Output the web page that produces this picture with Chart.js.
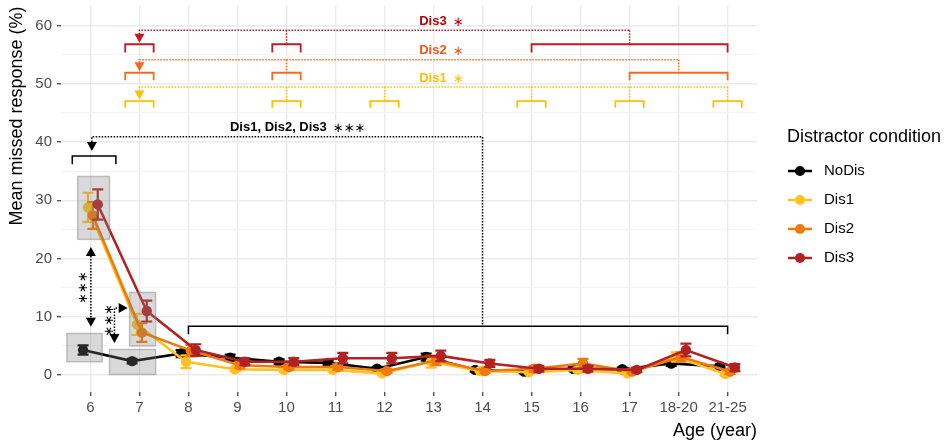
<!DOCTYPE html>
<html>
<head>
<meta charset="utf-8">
<script src="https://cdn.jsdelivr.net/npm/chart.js@4.4.0/dist/chart.umd.min.js"></script>
<style>
  html, body { margin: 0; padding: 0; background: #fff; }
</style>
</head>
<body>
<canvas id="chart" width="949" height="443"></canvas>
<script>
// age groups on the x axis
const ageGroups = ['6', '7', '8', '9', '10', '11', '12', '13', '14', '15', '16', '17', '18-20', '21-25'];

// mean missed response (%) and standard error per condition
const noDisMean = [4.3, 2.4, 3.7, 3.0, 2.3, 2.1, 1.1, 3.1, 0.9, 0.6, 1.1, 1.0, 2.0, 1.5];
const noDisSe   = [0.8, 0.4, 0.6, 0.5, 0.4, 0.4, 0.3, 0.6, 0.3, 0.3, 0.3, 0.3, 0.4, 0.4];
const dis1Mean  = [28.8, 8.7, 2.3, 1.0, 0.9, 0.9, 0.3, 2.3, 0.7, 0.5, 0.9, 0.3, 3.1, 0.2];
const dis1Se    = [2.5, 1.8, 1.1, 0.3, 0.3, 0.3, 0.2, 1.0, 0.2, 0.2, 0.4, 0.2, 0.8, 0.3];
const dis2Mean  = [27.4, 7.3, 4.2, 1.7, 1.4, 1.4, 0.7, 2.5, 0.7, 1.1, 2.0, 0.6, 3.1, 0.6];
const dis2Se    = [2.3, 1.6, 1.0, 0.5, 0.4, 0.5, 0.3, 0.8, 0.3, 0.5, 0.8, 0.3, 0.8, 0.4];
const dis3Mean  = [29.3, 11.0, 4.3, 2.3, 2.3, 2.9, 2.9, 3.3, 2.0, 1.1, 1.1, 0.9, 4.3, 1.3];
const dis3Se    = [2.6, 1.8, 1.0, 0.6, 0.6, 0.9, 0.9, 0.9, 0.6, 0.5, 0.5, 0.4, 1.1, 0.6];

const yTickValues = [0, 5, 10, 15, 20, 25, 30, 35, 40, 45, 50, 55, 60];

const FONT = "'Liberation Sans', Arial, 'DejaVu Sans', sans-serif";
const CAP = 5.5;

const series = [
  { name: 'NoDis', mean: noDisMean, se: noDisSe, color: '#000000', dodge: -0.15 },
  { name: 'Dis1', mean: dis1Mean, se: dis1Se, color: '#FFC125', dodge: -0.05 },
  { name: 'Dis2', mean: dis2Mean, se: dis2Se, color: '#EE7A0C', dodge: 0.05 },
  { name: 'Dis3', mean: dis3Mean, se: dis3Se, color: '#B22222', dodge: 0.15 }
];

// significance markers above the curves (x = age group index, y = % units)
const sigGroups = [
  { color: '#C8161D', textColor: '#C00000', label: 'Dis3', lineY: 59.2, top: 56.8, leg: 55.4, labelY: 60.8,
    singles: [1, 4], span: [9, 13], drop: 11 },
  { color: '#F56A1C', textColor: '#F2541B', label: 'Dis2', lineY: 54.15, top: 51.9, leg: 50.6, labelY: 55.7,
    singles: [1, 4], span: [11, 13], drop: 12 },
  { color: '#FFC000', textColor: '#FFC000', label: 'Dis1', lineY: 49.45, top: 47.05, leg: 45.9, labelY: 51.0,
    singles: [1, 4, 6, 9, 11, 13], span: null, drop: null }
];

const errorBars = {
  id: 'errorBars',
  afterDatasetDraw(chart, args) {
    const ds = chart.data.datasets[args.index];
    const ys = chart.scales.y;
    const ctx = chart.ctx;
    ctx.save();
    ctx.strokeStyle = ds.borderColor;
    ctx.lineWidth = 2.2;
    args.meta.data.forEach((pt, i) => {
      const v = ds.data[i].y, e = ds.se[i];
      const t = ys.getPixelForValue(v + e), b = ys.getPixelForValue(v - e);
      ctx.beginPath();
      ctx.moveTo(pt.x, t); ctx.lineTo(pt.x, b);
      ctx.moveTo(pt.x - CAP, t); ctx.lineTo(pt.x + CAP, t);
      ctx.moveTo(pt.x - CAP, b); ctx.lineTo(pt.x + CAP, b);
      ctx.stroke();
    });
    ctx.restore();
  }
};

const annotations = {
  id: 'annotations',
  afterDatasetsDraw(chart) {
    const ctx = chart.ctx;
    const xs = chart.scales.x, ys = chart.scales.y;
    const X = v => xs.getPixelForValue(v);
    const Y = v => ys.getPixelForValue(v);

    function box(x0, x1, y0, y1) {
      ctx.save();
      ctx.fillStyle = 'rgba(128,128,128,0.3)';
      ctx.strokeStyle = 'rgba(128,128,128,0.45)';
      ctx.lineWidth = 1.5;
      ctx.fillRect(X(x0), Y(y1), X(x1) - X(x0), Y(y0) - Y(y1));
      ctx.strokeRect(X(x0), Y(y1), X(x1) - X(x0), Y(y0) - Y(y1));
      ctx.restore();
    }
    function dotted(pts, color) {
      ctx.save();
      ctx.setLineDash([1.5, 1.5]);
      ctx.lineWidth = 1.5;
      ctx.strokeStyle = color;
      ctx.beginPath();
      pts.forEach((p, i) => {
        const px = typeof p[0] === 'number' ? X(p[0]) : p[0].px;
        const py = typeof p[1] === 'number' ? Y(p[1]) : p[1].px;
        if (i) ctx.lineTo(px, py); else ctx.moveTo(px, py);
      });
      ctx.stroke();
      ctx.restore();
    }
    function bracket(x0, x1, top, leg, color, w) {
      ctx.save();
      ctx.lineWidth = w || 1.8;
      ctx.strokeStyle = color;
      ctx.beginPath();
      ctx.moveTo(X(x0), Y(leg));
      ctx.lineTo(X(x0), Y(top));
      ctx.lineTo(X(x1), Y(top));
      ctx.lineTo(X(x1), Y(leg));
      ctx.stroke();
      ctx.restore();
    }
    // tip in pixels, dir: 'down' | 'up' | 'right'
    function arrow(tx, ty, dir, color) {
      const L = 9, H = 5;
      ctx.save();
      ctx.fillStyle = color;
      ctx.beginPath();
      ctx.moveTo(tx, ty);
      if (dir === 'down') { ctx.lineTo(tx - H, ty - L); ctx.lineTo(tx + H, ty - L); }
      else if (dir === 'up') { ctx.lineTo(tx - H, ty + L); ctx.lineTo(tx + H, ty + L); }
      else { ctx.lineTo(tx - L, ty - H); ctx.lineTo(tx - L, ty + H); }
      ctx.closePath();
      ctx.fill();
      ctx.restore();
    }
    function label(text, stars, xv, yv, color) {
      ctx.save();
      ctx.font = 'bold 13px ' + FONT;
      const w1 = ctx.measureText(text).width;
      ctx.font = '13px ' + FONT;
      const w2 = ctx.measureText(stars).width;
      const gap = 6;
      let x = X(xv) - (w1 + gap + w2) / 2;
      ctx.fillStyle = color;
      ctx.textBaseline = 'middle';
      ctx.textAlign = 'left';
      ctx.font = 'bold 13px ' + FONT;
      ctx.fillText(text, x, Y(yv));
      ctx.font = '13px ' + FONT;
      ctx.fillText(stars, x + w1 + gap, Y(yv) + 1);
      ctx.restore();
    }
    function vtext(text, xv, yv) {
      ctx.save();
      ctx.translate(X(xv), Y(yv));
      ctx.rotate(-Math.PI / 2);
      ctx.font = '13px ' + FONT;
      ctx.fillStyle = '#000';
      ctx.textAlign = 'center';
      ctx.textBaseline = 'middle';
      ctx.fillText(text, 0, 0);
      ctx.restore();
    }

    // highlighted regions
    box(-0.26, 0.39, 23.3, 34.1);
    box(-0.48, 0.24, 2.3, 7.15);
    box(0.39, 1.33, 0.1, 4.4);
    box(0.80, 1.33, 5.0, 14.2);

    // NoDis vs Dis at age 6
    dotted([[0.01, { px: Y(22.0) + 9 }], [0.01, { px: Y(8.3) - 9 }]], '#000');
    arrow(X(0.01), Y(22.0), 'up', '#000');
    arrow(X(0.01), Y(8.3), 'down', '#000');
    vtext('∗∗∗', -0.15, 15);

    // NoDis vs Dis at age 7
    dotted([[0.49, { px: Y(5.5) - 9 }], [0.49, 11.5], [{ px: X(0.76) - 9 }, 11.5]], '#000');
    arrow(X(0.49), Y(5.5), 'down', '#000');
    arrow(X(0.76), Y(11.5), 'right', '#000');
    vtext('∗∗∗', 0.39, 9.4);

    // age 6 vs ages 8 to 21-25
    bracket(-0.37, 0.52, 37.6, 36.2, '#000', 1.5);
    bracket(2, 13, 8.4, 7.0, '#000', 1.5);
    arrow(X(0.03), Y(37.6) - 5, 'down', '#000');
    dotted([[0.03, { px: Y(37.6) - 14 }], [0.03, 40.9], [8, 40.9], [8, 8.4]], '#000');
    label('Dis1, Dis2, Dis3', '∗∗∗', 4.23, 42.5, '#000');

    // age 7 vs later ages per distractor
    sigGroups.forEach(g => {
      const end = g.drop !== null ? g.drop : g.singles[g.singles.length - 1];
      dotted([[1, { px: Y(g.top) - 10 }], [1, g.lineY], [end, g.lineY]], g.color);
      g.singles.forEach(i => {
        bracket(i - 0.29, i + 0.29, g.top, g.leg, g.color);
        if (i !== 1) dotted([[i, g.lineY], [i, g.top]], g.color);
      });
      if (g.span) {
        bracket(g.span[0], g.span[1], g.top, g.leg, g.color);
        dotted([[g.drop, g.lineY], [g.drop, g.top]], g.color);
      }
      arrow(X(1), Y(g.top) - 1.5, 'down', g.color);
      label(g.label, '∗', 7.16, g.labelY, g.textColor);
    });
  },
  afterDraw(chart) {
    const ctx = chart.ctx;
    ctx.save();
    // y axis title
    ctx.translate(17.5, 116);
    ctx.rotate(-Math.PI / 2);
    ctx.font = '18px ' + FONT;
    ctx.fillStyle = '#000';
    ctx.textAlign = 'center';
    ctx.textBaseline = 'middle';
    ctx.fillText('Mean missed response (%)', 0, 0);
    ctx.restore();

    // legend
    ctx.save();
    ctx.fillStyle = '#000';
    ctx.textBaseline = 'middle';
    ctx.font = '18px ' + FONT;
    ctx.fillText('Distractor condition', 787, 137);
    ctx.font = '15px ' + FONT;
    series.forEach((s, k) => {
      const y = 171 + 29 * k;
      ctx.strokeStyle = s.color;
      ctx.fillStyle = s.color;
      ctx.lineWidth = 2.5;
      ctx.beginPath();
      ctx.moveTo(788, y); ctx.lineTo(812, y);
      ctx.stroke();
      ctx.beginPath();
      ctx.arc(800, y, 5, 0, Math.PI * 2);
      ctx.fill();
      ctx.fillStyle = '#000';
      ctx.fillText(s.name, 824, y);
    });
    ctx.restore();
  }
};

new Chart(document.getElementById('chart').getContext('2d'), {
  type: 'line',
  data: {
    datasets: series.map((s, k) => ({
      label: s.name,
      data: s.mean.map((v, i) => ({ x: i + s.dodge, y: v })),
      se: s.se,
      borderColor: s.color,
      backgroundColor: s.color,
      pointBackgroundColor: s.color,
      pointBorderWidth: 0,
      borderWidth: 2.6,
      pointRadius: 5.2,
      pointHoverRadius: 5.2,
      tension: 0,
      order: series.length - k
    }))
  },
  options: {
    responsive: false,
    animation: false,
    devicePixelRatio: 1,
    events: [],
    layout: { padding: { left: 0, right: 192, top: 5, bottom: 0 } },
    plugins: { legend: { display: false }, tooltip: { enabled: false } },
    scales: {
      x: {
        type: 'linear',
        min: -0.6,
        max: 13.6,
        afterBuildTicks: s => { s.ticks = ageGroups.map((a, i) => ({ value: i })); },
        afterFit: s => { s.height = 51; s.paddingLeft = 0; s.paddingRight = 0; },
        ticks: {
          callback: v => ageGroups[v],
          color: '#4D4D4D',
          font: { family: FONT, size: 15 },
          padding: 3,
          maxRotation: 0,
          autoSkip: false
        },
        grid: { color: '#EBEBEB', lineWidth: 1.4, tickColor: '#555', tickLength: 4 },
        border: { display: false },
        title: {
          display: true,
          text: 'Age (year)',
          align: 'end',
          color: '#000',
          font: { family: FONT, size: 18 },
          padding: { top: 0, bottom: 1 }
        }
      },
      y: {
        min: -2.9,
        max: 63.5,
        afterBuildTicks: s => { s.ticks = yTickValues.map(v => ({ value: v })); },
        afterFit: s => { s.width = 61; s.paddingTop = 0; s.paddingBottom = 0; },
        ticks: {
          callback: v => (v % 10 === 0 ? String(v) : ''),
          color: '#4D4D4D',
          font: { family: FONT, size: 15 },
          padding: 5
        },
        grid: {
          color: c => (c.tick && c.tick.value % 10 === 0 ? '#EBEBEB' : '#F4F4F4'),
          lineWidth: c => (c.tick && c.tick.value % 10 === 0 ? 1.4 : 1),
          tickColor: c => (c.tick && c.tick.value % 10 === 0 ? '#555' : 'rgba(0,0,0,0)'),
          tickLength: 4
        },
        border: { display: false }
      }
    }
  },
  plugins: [errorBars, annotations]
});
</script>
</body>
</html>
